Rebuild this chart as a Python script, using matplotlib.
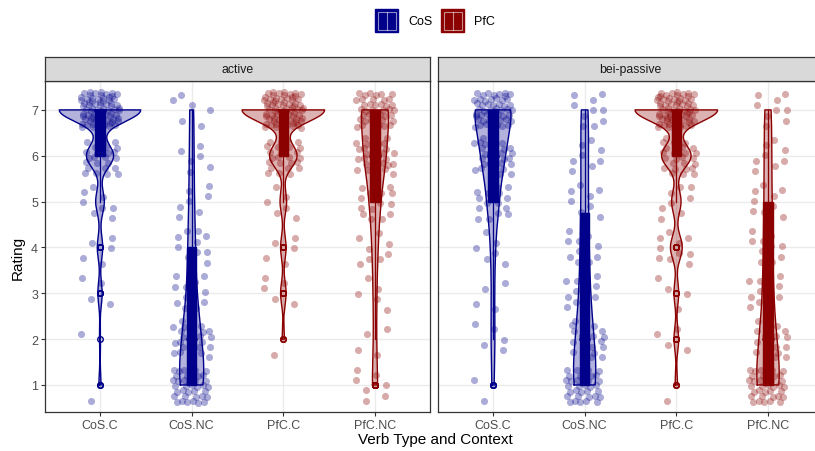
import numpy as np
import matplotlib.pyplot as plt
from matplotlib.patches import Rectangle
from matplotlib.lines import Line2D

plt.rcParams["font.family"] = ["Liberation Sans", "DejaVu Sans"]

# rating scale and groups
ratings = [1, 2, 3, 4, 5, 6, 7]
conditions = ["CoS.C", "CoS.NC", "PfC.C", "PfC.NC"]
panels = ["active", "bei-passive"]
verb_colors = {"CoS": "#00008B", "PfC": "#8B0000"}

# number of responses at rating 1..7
active_cos_c = [2, 1, 4, 5, 8, 25, 75]
active_cos_nc = [38, 26, 12, 10, 7, 6, 6]
active_pfc_c = [0, 2, 5, 5, 6, 25, 75]
active_pfc_nc = [8, 4, 5, 8, 15, 30, 40]

passive_cos_c = [3, 5, 4, 6, 15, 30, 52]
passive_cos_nc = [34, 20, 12, 10, 8, 8, 10]
passive_pfc_c = [2, 4, 4, 10, 8, 25, 70]
passive_pfc_nc = [36, 17, 12, 10, 9, 8, 9]

panel_counts = {
    "active": [active_cos_c, active_cos_nc, active_pfc_c, active_pfc_nc],
    "bei-passive": [passive_cos_c, passive_cos_nc, passive_pfc_c, passive_pfc_nc],
}


def bw_nrd0(x):
    sd = x.std(ddof=1)
    q1, q3 = np.percentile(x, [25, 75])
    lo = min(sd, (q3 - q1) / 1.34)
    if lo == 0:
        lo = sd if sd > 0 else 1.0
    return 0.9 * lo * len(x) ** -0.2


def kde(x):
    bw = bw_nrd0(x)
    grid = np.linspace(x.min(), x.max(), 512)
    z = (grid[:, None] - x[None, :]) / bw
    d = np.exp(-0.5 * z ** 2).sum(axis=1) / (len(x) * bw * np.sqrt(2 * np.pi))
    return grid, d


W, H = 815, 452
fig = plt.figure(figsize=(W / 100, H / 100), dpi=100)


def fr(x0, y0, x1, y1):
    return [x0 / W, 1 - y1 / H, (x1 - x0) / W, (y1 - y0) / H]


panel_px = [(45, 430), (438, 823)]
border = "#333333"

for p, (name, (x0, x1)) in enumerate(zip(panels, panel_px)):
    ax = fig.add_axes(fr(x0, 82, x1, 413))
    ax.set_xlim(0.4, 4.6)
    ax.set_ylim(0.41, 7.63)
    ax.set_axisbelow(True)
    ax.grid(color="#ebebeb", lw=1.0)
    for s in ax.spines.values():
        s.set_color(border)
        s.set_linewidth(0.9)
    ax.set_xticks(range(1, 5))
    ax.set_xticklabels(conditions)
    ax.set_yticks(ratings)
    ax.tick_params(length=3, width=0.8, color=border, labelcolor="#4d4d4d",
                   labelsize=9, pad=2)
    if p > 0:
        ax.tick_params(axis="y", left=False, labelleft=False)

    data = [np.repeat(ratings, c).astype(float) for c in panel_counts[name]]
    dens = [kde(x) for x in data]
    dmax = max(d.max() for _, d in dens)

    for i, (cond, x, (grid, d)) in enumerate(zip(conditions, data, dens), start=1):
        col = verb_colors[cond.split(".")[0]]
        hw = 0.45 * d / dmax
        ax.fill_betweenx(grid, i - hw, i + hw, facecolor=col, alpha=0.3, lw=0, zorder=2)
        xs = np.concatenate([i - hw, (i + hw)[::-1], [i - hw[0]]])
        ys = np.concatenate([grid, grid[::-1], [grid[0]]])
        ax.plot(xs, ys, color=col, lw=1.0, zorder=3)

        # boxplot
        q1, med, q3 = np.percentile(x, [25, 50, 75])
        iqr = q3 - q1
        lo = x[x >= q1 - 1.5 * iqr].min()
        hi = x[x <= q3 + 1.5 * iqr].max()
        outs = x[(x < lo) | (x > hi)]
        ax.plot([i, i], [lo, q1], color=col, lw=0.9, zorder=4)
        ax.plot([i, i], [q3, hi], color=col, lw=0.9, zorder=4)
        ax.add_patch(Rectangle((i - 0.05, q1), 0.1, q3 - q1, facecolor=col,
                               edgecolor=col, lw=1.0, zorder=4))
        ax.plot([i - 0.05, i + 0.05], [med, med], color=col, lw=1.8, zorder=4)
        ax.plot(np.full(len(outs), i), outs, "o", mfc="none", mec=col, ms=4,
                mew=1.0, zorder=4)

        # jittered points (deterministic low-discrepancy jitter)
        idx = np.arange(len(x))
        u = (0.5 + idx * 0.7548776662) % 1
        v = (0.5 + idx * 0.5698402910) % 1
        ax.scatter(i + (u - 0.5) * 0.42, x + (v - 0.5) * 0.8, s=26, color=col,
                   alpha=0.33, lw=0, zorder=5)

    sax = fig.add_axes(fr(x0, 58, x1, 82))
    sax.set_facecolor("#d9d9d9")
    sax.set_xticks([])
    sax.set_yticks([])
    for s in sax.spines.values():
        s.set_color(border)
        s.set_linewidth(0.9)
    sax.text(0.5, 0.5, name, ha="center", va="center", fontsize=8.8,
             color="#1a1a1a", transform=sax.transAxes)

# legend at the top
for (kx, tx, label) in [(375, 408, "CoS"), (441, 474, "PfC")]:
    col = verb_colors[label]
    fig.add_artist(Rectangle((kx / W, 1 - 33 / H), 23 / W, 23 / H,
                             transform=fig.transFigure, facecolor=col,
                             edgecolor=col, lw=1.0))
    fig.add_artist(Rectangle(((kx + 2.5) / W, 1 - 30.5 / H), 18 / W, 18 / H,
                             transform=fig.transFigure, facecolor="none",
                             edgecolor="white", alpha=0.55, lw=0.8))
    fig.add_artist(Line2D([(kx + 11.5) / W] * 2, [1 - 30.5 / H, 1 - 12.5 / H],
                          transform=fig.transFigure, color="white", alpha=0.55,
                          lw=0.8))
    fig.text(tx / W, 1 - 22 / H, label, ha="left", va="center", fontsize=9,
             color="black")

fig.text(435 / W, 1 - 440 / H, "Verb Type and Context", ha="center",
         va="center", fontsize=11)
fig.text(18 / W, 1 - 258 / H, "Rating", ha="center", va="center",
         rotation=90, fontsize=11)

fig.savefig("out.png", dpi=100)
